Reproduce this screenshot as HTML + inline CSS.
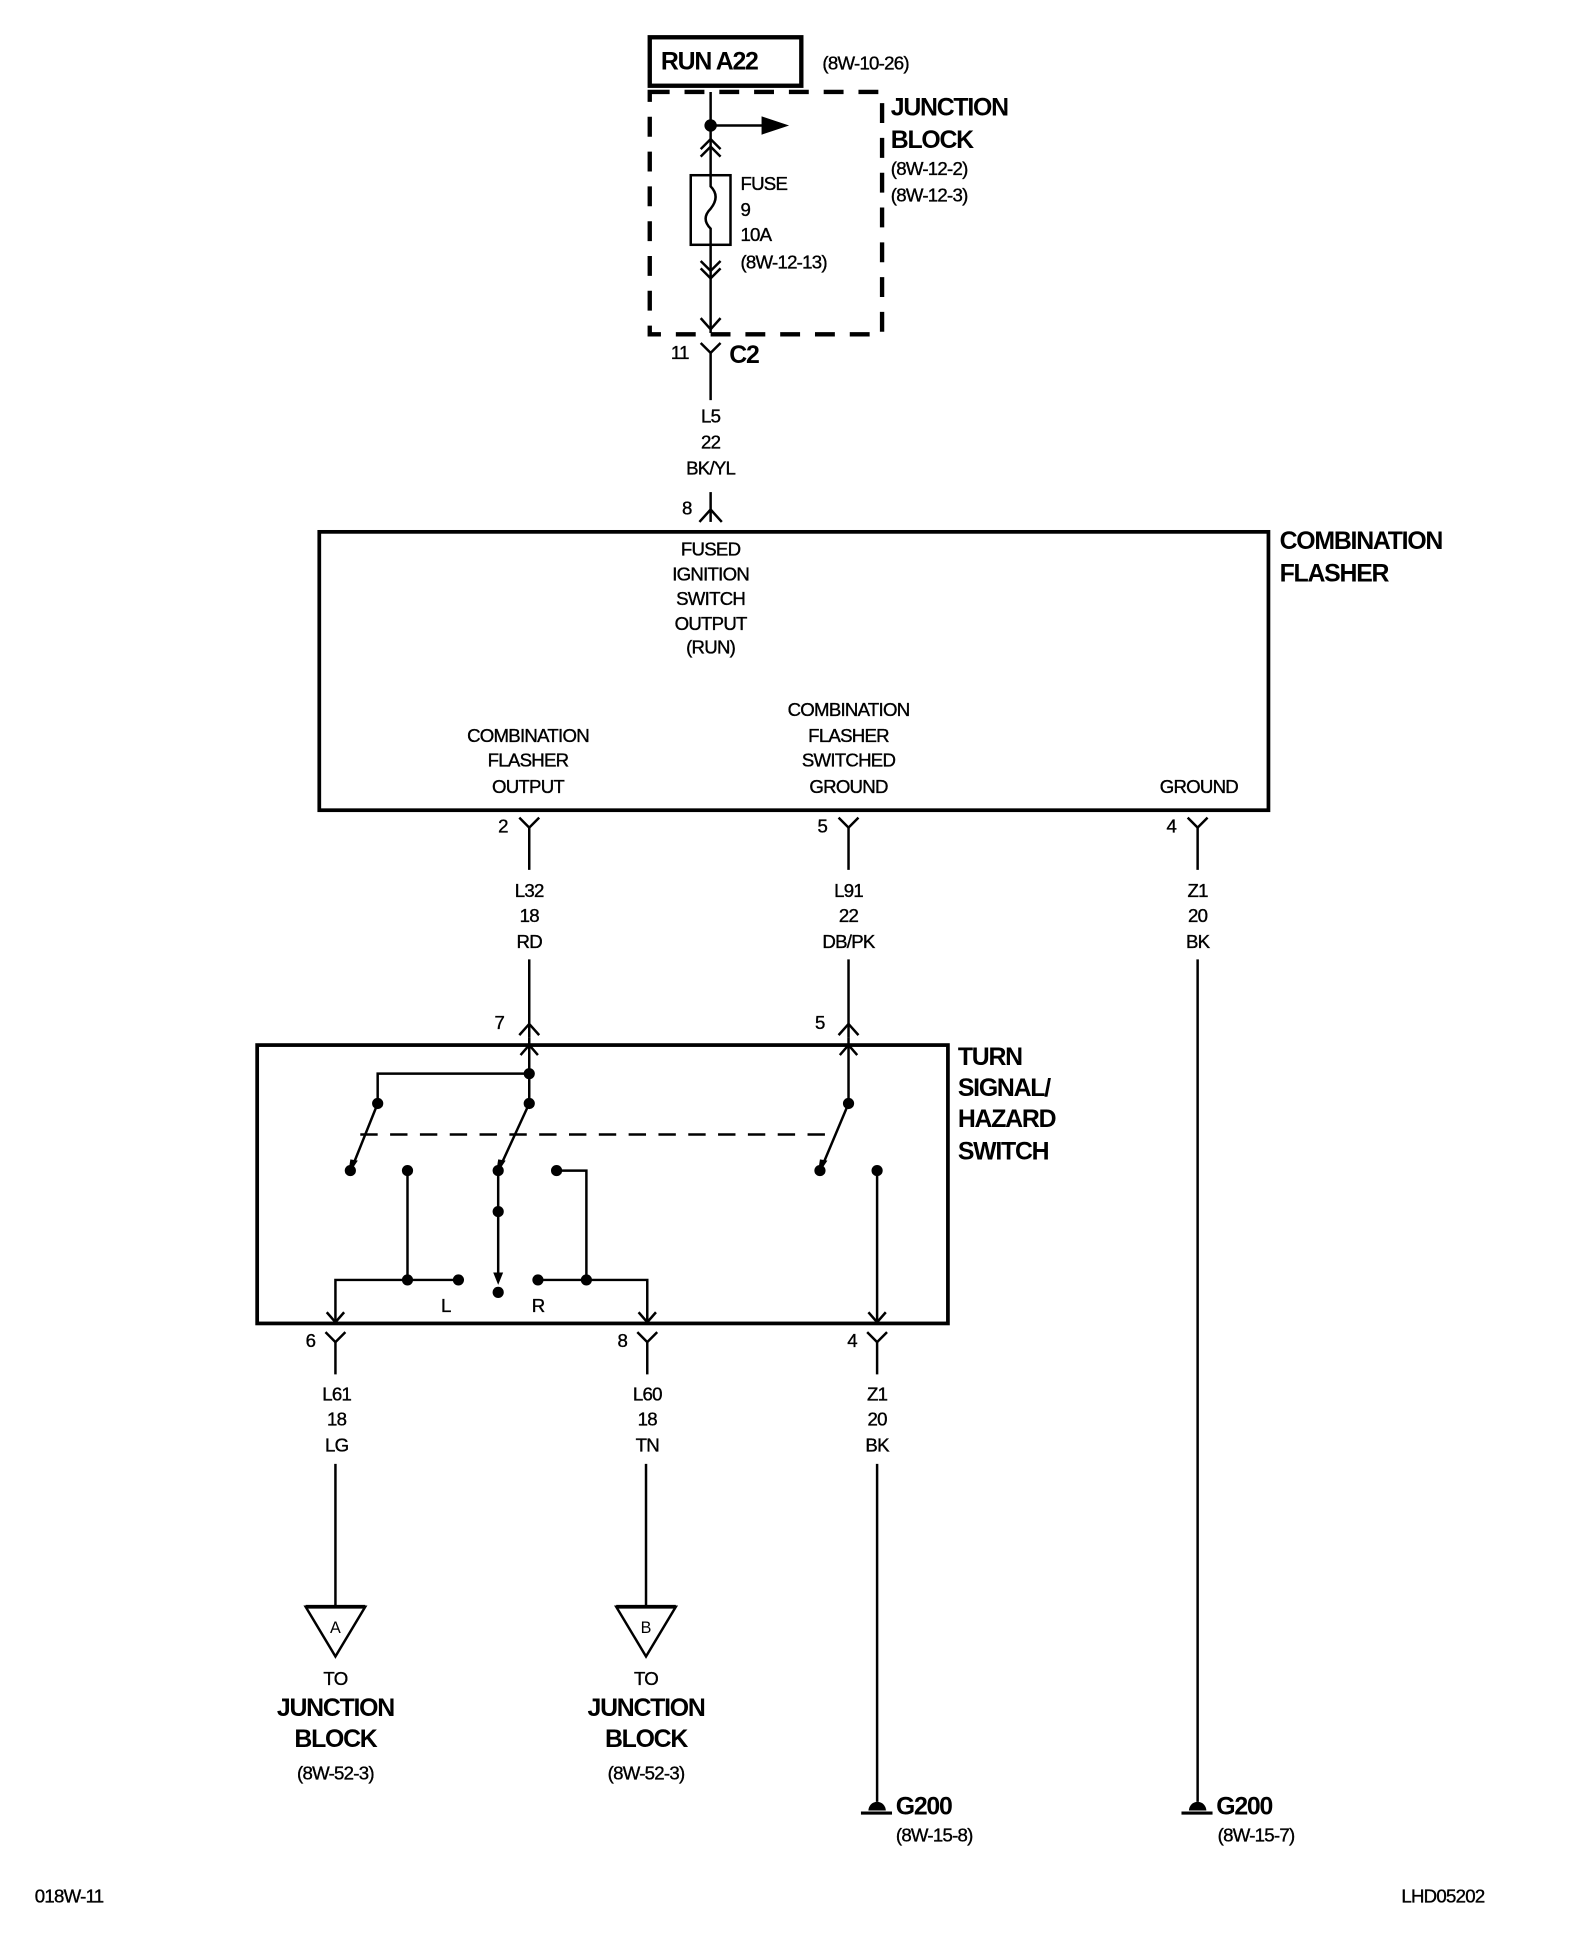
<!DOCTYPE html>
<html><head><meta charset="utf-8"><style>
html,body{margin:0;padding:0;background:#fff;}
svg{display:block;}
text{font-family:"Liberation Sans",sans-serif;fill:#000;}
.s{font-size:15px;letter-spacing:-0.6px;stroke:#000;stroke-width:0.3px;}
.b{font-size:20px;font-weight:bold;letter-spacing:-1px;}
</style></head><body>
<svg width="1584" height="1946" viewBox="0 0 1275 1566" preserveAspectRatio="none" xmlns="http://www.w3.org/2000/svg">
<g fill="none" stroke="#000" stroke-width="2">
<rect x="523" y="30" width="122" height="39" stroke-width="3.5"/>
<rect x="523" y="74" width="187" height="195" stroke-width="3.5" stroke-dasharray="16,12"/>
<line x1="572" y1="74" x2="572" y2="141"/>
<line x1="572" y1="197" x2="572" y2="268"/>
<line x1="572" y1="101" x2="620" y2="101"/>
<polygon points="614,95 632,101 614,107" fill="#000"/>
<polyline points="564,120 572,112 580,120"/><polyline points="564,126 572,118 580,126"/>
<rect x="556" y="141" width="32" height="56"/>
<path d="M572,141 V150 Q580,158 572,168 Q564,176 572,184 V197"/>
<polyline points="564,210 572,218 580,210"/><polyline points="564,216 572,224 580,216"/>
<polyline points="564,256 572,265 580,256"/>
<polyline points="564,276 572,284 580,276"/>
<line x1="572" y1="284" x2="572" y2="322"/>
<line x1="572" y1="396" x2="572" y2="420"/>
<polyline points="563,420 572,410 581,420"/>
<rect x="257" y="428" width="764" height="224" stroke-width="3"/>
<polyline points="418,658 426,666 434,658"/><line x1="426" y1="666" x2="426" y2="700"/>
<polyline points="675,658 683,666 691,658"/><line x1="683" y1="666" x2="683" y2="700"/>
<polyline points="956,658 964,666 972,658"/><line x1="964" y1="666" x2="964" y2="700"/>
<line x1="426" y1="772" x2="426" y2="835"/><polyline points="418,833 426,824 434,833"/>
<line x1="683" y1="772" x2="683" y2="835"/><polyline points="675,833 683,824 691,833"/>
<line x1="964" y1="772" x2="964" y2="1450"/>
<rect x="207" y="841" width="556" height="224" stroke-width="3"/>
<line x1="426" y1="835" x2="426" y2="888"/>
<polyline points="419,849 426,841 433,849"/>
<polyline points="426,864 304,864 304,888"/>
<line x1="683" y1="835" x2="683" y2="888"/>
<polyline points="676,849 683,841 690,849"/>
<line x1="304" y1="888" x2="284" y2="938"/>
<line x1="426" y1="888" x2="403" y2="938"/>
<line x1="683" y1="888" x2="662" y2="938"/>
<line x1="290" y1="913" x2="670" y2="913" stroke-dasharray="14,10"/>
<line x1="328" y1="942" x2="328" y2="1030"/>
<polyline points="270,1063 270,1030 369,1030"/>
<line x1="401" y1="942" x2="401" y2="1030"/>
<polyline points="448,942 472,942 472,1030"/>
<polyline points="433,1030 521,1030 521,1063"/>
<line x1="706" y1="942" x2="706" y2="1063"/>
<polyline points="263,1056 270,1064 277,1056"/>
<polyline points="514,1056 521,1064 528,1056"/>
<polyline points="699,1056 706,1064 713,1056"/>
<polyline points="262,1072 270,1080 278,1072"/><line x1="270" y1="1080" x2="270" y2="1106"/>
<polyline points="513,1072 521,1080 529,1072"/><line x1="521" y1="1080" x2="521" y2="1106"/>
<polyline points="698,1072 706,1080 714,1072"/><line x1="706" y1="1080" x2="706" y2="1106"/>
<line x1="270" y1="1178" x2="270" y2="1293"/>
<line x1="520" y1="1178" x2="520" y2="1293"/>
<line x1="706" y1="1178" x2="706" y2="1450"/>
<polygon points="246,1293 294,1293 270,1333"/>
<line x1="246" y1="1293" x2="294" y2="1293" stroke-width="3"/>
<polygon points="496,1293 544,1293 520,1333"/>
<line x1="496" y1="1293" x2="544" y2="1293" stroke-width="3"/>
<line x1="693" y1="1459" x2="718" y2="1459" stroke-width="2.5"/>
<line x1="951" y1="1459" x2="976" y2="1459" stroke-width="2.5"/>
</g>
<g fill="#000">
<circle cx="572" cy="101" r="5"/>
<circle cx="426" cy="864" r="4.5"/><circle cx="426" cy="888" r="4.5"/><circle cx="304" cy="888" r="4.5"/><circle cx="683" cy="888" r="4.5"/>
<circle cx="282" cy="942" r="4.5"/><circle cx="328" cy="942" r="4.5"/><circle cx="401" cy="942" r="4.5"/><circle cx="448" cy="942" r="4.5"/><circle cx="660" cy="942" r="4.5"/><circle cx="706" cy="942" r="4.5"/>
<circle cx="401" cy="975" r="4.5"/><circle cx="401" cy="1040" r="4.5"/>
<circle cx="328" cy="1030" r="4.5"/><circle cx="369" cy="1030" r="4.5"/><circle cx="433" cy="1030" r="4.5"/><circle cx="472" cy="1030" r="4.5"/>
<polygon points="280,946 288,934 282,933"/><polygon points="399,946 407,934 401,933"/><polygon points="658,946 666,934 660,933"/>
<polygon points="397,1024 405,1024 401,1034"/>
<path d="M699,1457 a7,7 0 0 1 14,0 z"/>
<path d="M957,1457 a7,7 0 0 1 14,0 z"/>
</g>
<text x="532" y="56" class="b">RUN A22</text>
<text x="662" y="56" class="s">(8W-10-26)</text>
<text x="717" y="93" class="b">JUNCTION</text>
<text x="717" y="119" class="b">BLOCK</text>
<text x="717" y="141" class="s">(8W-12-2)</text>
<text x="717" y="162" class="s">(8W-12-3)</text>
<text x="596" y="153" class="s">FUSE</text>
<text x="596" y="174" class="s">9</text>
<text x="596" y="194" class="s">10A</text>
<text x="596" y="216" class="s">(8W-12-13)</text>
<text x="540" y="289" class="s">11</text>
<text x="587" y="292" class="b">C2</text>
<g text-anchor="middle">
<text x="572" y="340" class="s">L5</text><text x="572" y="361" class="s">22</text><text x="572" y="382" class="s">BK/YL</text>
<text x="572" y="447" class="s">FUSED</text><text x="572" y="467" class="s">IGNITION</text><text x="572" y="487" class="s">SWITCH</text><text x="572" y="507" class="s">OUTPUT</text><text x="572" y="526" class="s">(RUN)</text>
<text x="425" y="597" class="s">COMBINATION</text><text x="425" y="617" class="s">FLASHER</text><text x="425" y="638" class="s">OUTPUT</text>
<text x="683" y="576" class="s">COMBINATION</text><text x="683" y="597" class="s">FLASHER</text><text x="683" y="617" class="s">SWITCHED</text><text x="683" y="638" class="s">GROUND</text>
<text x="965" y="638" class="s">GROUND</text>
<text x="426" y="722" class="s">L32</text><text x="426" y="742" class="s">18</text><text x="426" y="763" class="s">RD</text>
<text x="683" y="722" class="s">L91</text><text x="683" y="742" class="s">22</text><text x="683" y="763" class="s">DB/PK</text>
<text x="964" y="722" class="s">Z1</text><text x="964" y="742" class="s">20</text><text x="964" y="763" class="s">BK</text>
<text x="271" y="1127" class="s">L61</text><text x="271" y="1147" class="s">18</text><text x="271" y="1168" class="s">LG</text>
<text x="521" y="1127" class="s">L60</text><text x="521" y="1147" class="s">18</text><text x="521" y="1168" class="s">TN</text>
<text x="706" y="1127" class="s">Z1</text><text x="706" y="1147" class="s">20</text><text x="706" y="1168" class="s">BK</text>
<text x="270" y="1314" style="font-size:13px">A</text><text x="520" y="1314" style="font-size:13px">B</text>
<text x="270" y="1356" class="s">TO</text><text x="270" y="1381" class="b">JUNCTION</text><text x="270" y="1406" class="b">BLOCK</text><text x="270" y="1432" class="s">(8W-52-3)</text>
<text x="520" y="1356" class="s">TO</text><text x="520" y="1381" class="b">JUNCTION</text><text x="520" y="1406" class="b">BLOCK</text><text x="520" y="1432" class="s">(8W-52-3)</text>
<text x="752" y="1482" class="s">(8W-15-8)</text>
<text x="1011" y="1482" class="s">(8W-15-7)</text>
</g>
<text x="549" y="414" class="s">8</text>
<text x="1030" y="442" class="b">COMBINATION</text>
<text x="1030" y="468" class="b">FLASHER</text>
<text x="401" y="670" class="s">2</text><text x="658" y="670" class="s">5</text><text x="939" y="670" class="s">4</text>
<text x="398" y="828" class="s">7</text><text x="656" y="828" class="s">5</text>
<text x="771" y="857" class="b">TURN</text><text x="771" y="882" class="b">SIGNAL/</text><text x="771" y="907" class="b">HAZARD</text><text x="771" y="933" class="b">SWITCH</text>
<text x="355" y="1056" class="s">L</text><text x="428" y="1056" class="s">R</text>
<text x="246" y="1084" class="s">6</text><text x="497" y="1084" class="s">8</text><text x="682" y="1084" class="s">4</text>
<text x="721" y="1460" class="b">G200</text>
<text x="979" y="1460" class="b">G200</text>
<text x="28" y="1531" class="s">018W-11</text>
<text x="1128" y="1531" class="s">LHD05202</text>
</svg>
</body></html>
